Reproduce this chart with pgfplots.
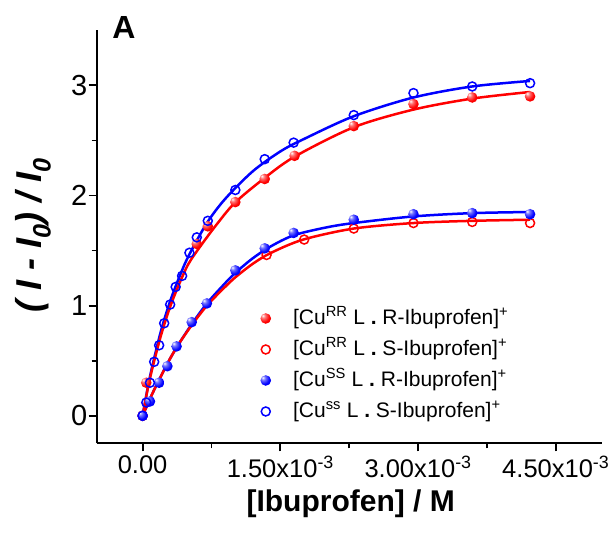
\documentclass[border=0pt]{standalone}
\usepackage{fontspec}
\setmainfont{Liberation Sans}
\usepackage{pgfplots}
\pgfplotsset{compat=1.18}
\pgfdeclareradialshading{myredball}{\pgfpoint{-14bp}{14bp}}{color(0bp)=(white); color(10bp)=(red!55!white); color(26bp)=(red); color(50bp)=(red!88!black); color(80bp)=(red!75!black)}
\pgfdeclareradialshading{myblueball}{\pgfpoint{-14bp}{14bp}}{color(0bp)=(white); color(10bp)=(blue!55!white); color(26bp)=(blue); color(50bp)=(blue!88!black); color(80bp)=(blue!75!black)}
\pgfdeclareplotmark{redball}{\pgfpathcircle{\pgfpointorigin}{\pgfplotmarksize}\pgfshadepath{myredball}{0}\pgfusepath{}}
\pgfdeclareplotmark{blueball}{\pgfpathcircle{\pgfpointorigin}{\pgfplotmarksize}\pgfshadepath{myblueball}{0}\pgfusepath{}}
\begin{document}
\begin{tikzpicture}
\begin{axis}[
  scale only axis, width=505bp, height=413bp,
  xmin=-0.5, xmax=5.0, ymin=-0.25, ymax=3.5,
  axis x line=bottom, axis y line=left,
  axis line style={-, line width=1.8bp, black},
  xtick={0,1.5,3,4.5},
  xticklabels={0.00, 1.50x10\textsuperscript{-3}, 3.00x10\textsuperscript{-3}, 4.50x10\textsuperscript{-3}},
  ytick={0,1,2,3}, yticklabels={0,1,2,3},
  minor xtick={0.75,2.25,3.75}, minor ytick={0.5,1.5,2.5},
  tick align=outside, major tick length=8bp, minor tick length=5bp,
  major tick style={black, line width=1.8bp},
  minor tick style={black, line width=1.8bp},
  x tick label style={font=\fontsize{25.5bp}{30bp}\selectfont, yshift=-1bp},
  y tick label style={font=\fontsize{29bp}{34bp}\selectfont, xshift=2bp},
  xlabel={\textbf{[Ibuprofen] / M}},
  xlabel style={font=\fontsize{30bp}{36bp}\selectfont, at={(axis description cs:0.503,-0.1655)}, anchor=base},
  ylabel={\textbf{\textit{( I - I\textsubscript{0}) / I\textsubscript{0}}}},
  ylabel style={font=\fontsize{36bp}{42bp}\selectfont, at={(axis description cs:-0.109,0.504)}, anchor=base, rotate=0},
  legend style={draw=none, fill=none, at={(axis description cs:0.318,0.339)}, anchor=north west,
    font=\fontsize{21bp}{25bp}\selectfont, row sep=5bp, column sep=20bp,
    nodes={text height=17bp, text depth=5bp, inner sep=2bp}},
  legend cell align=left,
  legend image code/.code={\draw[mark repeat=2,mark phase=2,#1] plot coordinates {(0bp,0bp)(12bp,0bp)(24bp,0bp)};},
  clip=false,
]
% red filled (upper)
\addplot[only marks, mark=redball, mark size=5.3bp] coordinates {
(0,0) (0.04,0.30) (0.59,1.56) (0.71,1.72) (1.01,1.94) (1.33,2.15) (1.655,2.36) (2.30,2.63) (2.95,2.83) (3.59,2.89) (4.22,2.90)};
\addlegendentry{[Cu\textsuperscript{RR} L \textbf{.} R-Ibuprofen]\textsuperscript{+}}
% red open (lower)
\addplot[only marks, mark=o, mark size=4.5bp, mark options={draw=red, fill=white, line width=1.5bp}] coordinates {
(0,0) (1.35,1.46) (1.76,1.60) (2.30,1.70) (2.95,1.75) (3.59,1.76) (4.22,1.75)};
\addlegendentry{[Cu\textsuperscript{RR} L \textbf{.} S-Ibuprofen]\textsuperscript{+}}
% blue filled (lower)
\addplot[only marks, mark=blueball, mark size=5.3bp] coordinates {
(0,0) (0.08,0.13) (0.18,0.30) (0.27,0.45) (0.37,0.63) (0.535,0.85) (0.70,1.02) (1.01,1.32) (1.33,1.52) (1.645,1.66) (2.30,1.78) (2.95,1.83) (3.59,1.84) (4.22,1.83)};
\addlegendentry{[Cu\textsuperscript{SS} L \textbf{.} R-Ibuprofen]\textsuperscript{+}}
% blue open (upper)
\addplot[only marks, mark=o, mark size=4.5bp, mark options={draw=blue, fill=white, line width=1.5bp}] coordinates {
(0,0) (0.04,0.12) (0.08,0.30) (0.126,0.49) (0.18,0.64) (0.235,0.84) (0.30,1.01) (0.36,1.17) (0.43,1.27) (0.51,1.48) (0.59,1.62) (0.71,1.77) (1.01,2.05) (1.33,2.33) (1.645,2.48) (2.30,2.73) (2.95,2.93) (3.59,2.99) (4.22,3.02)};
\addlegendentry{[Cu\textsuperscript{ss} L \textbf{.} S-Ibuprofen]\textsuperscript{+}}
% fitted curves
\addplot[forget plot, blue, line width=2.5bp, smooth] coordinates {
(0,0) (0.05,0.23) (0.1,0.43) (0.2,0.77) (0.3,1.04) (0.4,1.26) (0.5,1.45) (0.7,1.75) (0.9,1.97) (1.2,2.22) (1.5,2.40) (1.75,2.51) (2.3,2.72) (2.95,2.89) (3.59,2.99) (4.22,3.04)};
\addplot[forget plot, blue, line width=2.5bp, smooth] coordinates {
(0,0) (0.1,0.19) (0.2,0.36) (0.3,0.52) (0.4,0.66) (0.55,0.85) (0.7,1.02) (0.85,1.16) (1.0,1.29) (1.2,1.43) (1.4,1.54) (1.65,1.64) (2.0,1.71) (2.3,1.75) (2.95,1.81) (3.59,1.84) (4.22,1.85)};
\addplot[forget plot, red, line width=2.5bp, smooth] coordinates {
(0,0) (0.05,0.22) (0.1,0.41) (0.2,0.73) (0.3,0.99) (0.4,1.20) (0.5,1.38) (0.63,1.54) (0.8,1.73) (1.0,1.93) (1.3,2.14) (1.65,2.35) (2.3,2.62) (2.95,2.78) (3.59,2.88) (4.22,2.94)};
\addplot[forget plot, red, line width=2.5bp, smooth] coordinates {
(0,0) (0.1,0.19) (0.2,0.36) (0.3,0.52) (0.4,0.66) (0.55,0.84) (0.7,1.00) (0.85,1.13) (1.0,1.25) (1.2,1.38) (1.4,1.48) (1.75,1.60) (2.3,1.70) (2.95,1.75) (3.59,1.77) (4.22,1.78)};
\node[anchor=base west, font=\fontsize{32bp}{38bp}\selectfont\bfseries] at (axis description cs:0.024,0.98) {A};
\end{axis}
\pgfresetboundingbox
\path[use as bounding box] (-96.7bp,-94.7bp) rectangle ++(613bp,538bp);
\end{tikzpicture}
\end{document}
